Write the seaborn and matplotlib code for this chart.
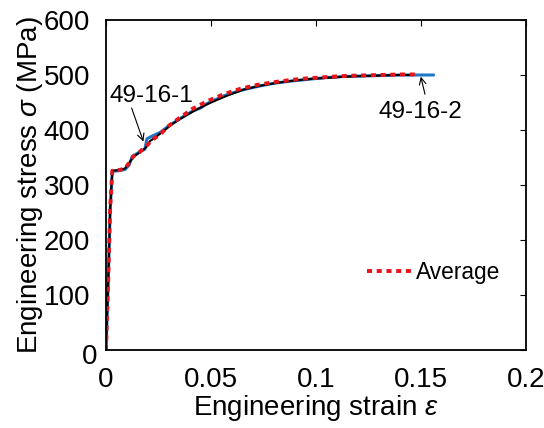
import matplotlib
matplotlib.use("Agg")
import matplotlib.pyplot as plt
from matplotlib.transforms import ScaledTranslation
import seaborn as sns
import pandas as pd

# ---- data ----
strain_1 = [0, 0.001, 0.002, 0.003, 0.006, 0.009, 0.011, 0.013, 0.016, 0.019, 0.021,
            0.024, 0.028, 0.032, 0.037, 0.043, 0.050, 0.058, 0.066, 0.074, 0.082,
            0.090, 0.098, 0.106, 0.114, 0.122, 0.130, 0.140, 0.146]
stress_1 = [0, 118, 258, 326, 327, 330, 340, 351, 359, 368, 380,
            388, 400, 412, 424, 437, 450, 463, 474, 481, 486,
            490, 493, 495, 497, 498, 499, 500, 500]

strain_2 = [0, 0.001, 0.002, 0.003, 0.006, 0.009, 0.011, 0.0125, 0.016, 0.0185, 0.0195,
            0.022, 0.026, 0.030, 0.035, 0.041, 0.045, 0.048, 0.056, 0.064, 0.072,
            0.080, 0.088, 0.096, 0.104, 0.112, 0.120, 0.130, 0.140, 0.150, 0.156]
stress_2 = [0, 115, 255, 325, 326, 328, 336, 352, 360, 365, 384,
            389, 396, 408, 420, 434, 440, 448, 462, 472, 479,
            485, 489, 492, 495, 497, 498, 499, 500, 500, 500]

strain_avg = [0, 0.001, 0.002, 0.003, 0.006, 0.009, 0.011, 0.013, 0.016, 0.019, 0.022,
              0.026, 0.030, 0.035, 0.041, 0.048, 0.056, 0.064, 0.072, 0.080, 0.088,
              0.096, 0.104, 0.112, 0.120, 0.130, 0.140, 0.148]
stress_avg = [0, 120, 260, 326, 327, 330, 340, 352, 360, 370, 382,
              393, 408, 422, 438, 452, 465, 475, 482, 487, 491,
              494, 496, 498, 499, 500, 501, 501]

x_ticks = [0, 0.05, 0.1, 0.15, 0.2]
x_ticklabels = ["0", "0.05", "0.1", "0.15", "0.2"]
y_ticks = [0, 100, 200, 300, 400, 500, 600]
y_ticklabels = ["0", "100", "200", "300", "400", "500", "600"]

sns.set_theme(style="white")
plt.rcParams["font.family"] = ["Liberation Sans", "DejaVu Sans"]
plt.rcParams["mathtext.fontset"] = "custom"
plt.rcParams["mathtext.rm"] = "Liberation Sans"
plt.rcParams["mathtext.it"] = "Liberation Sans:italic"
plt.rcParams["text.color"] = "black"
plt.rcParams["axes.labelcolor"] = "black"
plt.rcParams["xtick.color"] = "black"
plt.rcParams["ytick.color"] = "black"

fig = plt.figure(figsize=(5.44, 4.28), dpi=100)
ax = fig.add_axes([106 / 544, 1 - 350 / 428, 420 / 544, 330 / 428])

df1 = pd.DataFrame({"strain": strain_1, "stress": stress_1})
df2 = pd.DataFrame({"strain": strain_2, "stress": stress_2})
dfa = pd.DataFrame({"strain": strain_avg, "stress": stress_avg})

sns.lineplot(data=df2, x="strain", y="stress", ax=ax, sort=False, estimator=None,
             color="#1f77c8", lw=2.2, legend=False)
sns.lineplot(data=df1, x="strain", y="stress", ax=ax, sort=False, estimator=None,
             color="black", lw=1.5, legend=False)
sns.lineplot(data=dfa, x="strain", y="stress", ax=ax, sort=False, estimator=None,
             color="#e8141c", lw=2.8, label="Average")
ax.lines[-1].set_dashes([1.3, 1.2])

ax.set_xlim(0, 0.2)
ax.set_ylim(0, 600)
ax.set_xticks(x_ticks)
ax.set_xticklabels(x_ticklabels)
ax.set_yticks(y_ticks)
ax.set_yticklabels(y_ticklabels)
ax.tick_params(direction="in", length=4, width=0.8, top=True, right=True,
               labelsize=20, colors="black")
ax.tick_params(axis="y", pad=11.5)
ax.tick_params(axis="x", pad=12)
for s in ax.spines.values():
    s.set_visible(True)
    s.set_color("black")
    s.set_linewidth(1.3)

# the origin "0" of the y axis sits a little lower and closer to the axis
zero_lbl = ax.get_yticklabels()[0]
zero_lbl.set_transform(zero_lbl.get_transform() +
                       ScaledTranslation(7 / 100, -4 / 100, fig.dpi_scale_trans))

ax.set_xlabel("Engineering strain $\\varepsilon$", fontsize=20, color="black")
ax.set_ylabel("Engineering stress $\\sigma$ (MPa)", fontsize=20, color="black")
ax.xaxis.set_label_coords(0.5, -0.130)
ax.yaxis.set_label_coords(-0.146, 0.5)

leg = ax.legend(loc="center left", bbox_to_anchor=((367 - 106) / 420, 1 - (272 - 20) / 330),
                frameon=False, fontsize=16.4, handlelength=1.95, handletextpad=0.22,
                borderpad=0, borderaxespad=0)
for t in leg.get_texts():
    t.set_color("black")

ax.text(0.0214, 462, "49-16-1", fontsize=17.5, ha="center", va="center", color="black")
ax.annotate("", xy=(0.0178, 379), xytext=(0.0122, 440),
            arrowprops=dict(arrowstyle="->", color="black", lw=0.8, shrinkA=0, shrinkB=0))
ax.text(0.1495, 432, "49-16-2", fontsize=17.5, ha="center", va="center", color="black")
ax.annotate("", xy=(0.1499, 497), xytext=(0.1519, 465),
            arrowprops=dict(arrowstyle="->", color="black", lw=0.8, shrinkA=0, shrinkB=0))

fig.savefig("out.png", dpi=100)
